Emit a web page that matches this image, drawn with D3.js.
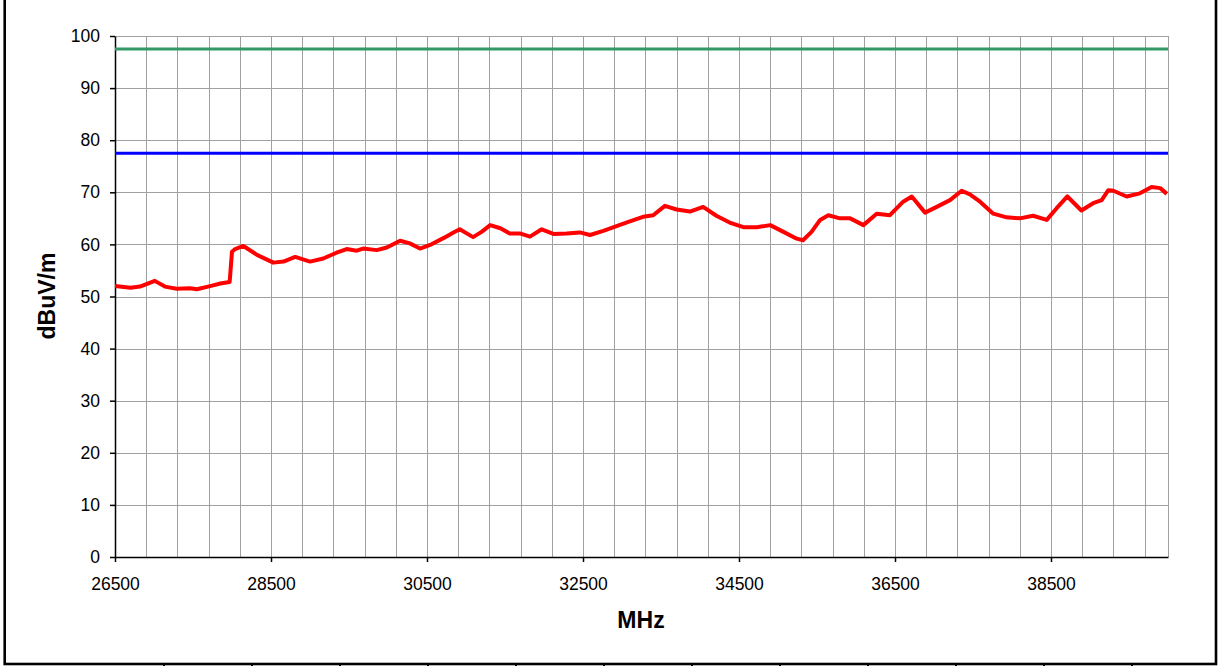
<!DOCTYPE html>
<html>
<head>
<meta charset="utf-8">
<script src="https://cdn.jsdelivr.net/npm/d3@7"></script>
<style>
  body { margin: 0; background: #fff; }
  svg { display: block; font-family: Arial, "Liberation Sans", sans-serif; }
</style>
</head>
<body>
<svg width="1225" height="666"></svg>
<script>
var freqs = [26500, 26700, 26820, 27010, 27140, 27290, 27460, 27550, 27720, 27850,
    27970, 28000, 28040, 28145, 28320, 28530, 28660, 28810, 29000, 29170,
    29340, 29470, 29600, 29680, 29855, 29985, 30155, 30280, 30410, 30540,
    30710, 30840, 30920, 31090, 31200, 31310, 31440, 31560, 31690, 31820,
    31970, 32120, 32290, 32460, 32590, 32760, 32930, 33100, 33270, 33400,
    33550, 33700, 33870, 34040, 34210, 34380, 34555, 34730, 34900, 35070,
    35240, 35320, 35430, 35540, 35645, 35795, 35925, 36095, 36265, 36435,
    36605, 36715, 36885, 37035, 37205, 37355, 37460, 37590, 37760, 37930,
    38100, 38270, 38445, 38570, 38710, 38890, 39040, 39150, 39235, 39300,
    39470, 39640, 39790, 39900, 39985];
var levels = [52.0, 51.7, 51.9, 53.0, 51.9, 51.5, 51.6, 51.4, 52.0, 52.5,
    52.8, 58.6, 59.1, 59.7, 58.0, 56.5, 56.7, 57.6, 56.7, 57.3,
    58.4, 59.1, 58.8, 59.2, 58.9, 59.4, 60.7, 60.2, 59.2, 59.9,
    61.2, 62.3, 62.9, 61.4, 62.4, 63.7, 63.1, 62.1, 62.1, 61.5,
    62.9, 62.0, 62.1, 62.3, 61.8, 62.6, 63.5, 64.4, 65.3, 65.6,
    67.4, 66.7, 66.3, 67.2, 65.5, 64.2, 63.3, 63.3, 63.7, 62.4,
    61.1, 60.8, 62.4, 64.7, 65.6, 65.0, 65.0, 63.7, 65.9, 65.6,
    68.2, 69.2, 66.1, 67.2, 68.5, 70.3, 69.6, 68.2, 65.9, 65.2,
    65.0, 65.5, 64.7, 66.9, 69.2, 66.5, 67.9, 68.5, 70.4, 70.3,
    69.2, 69.8, 71.0, 70.8, 69.7];

// limit lines
var limitUpper = 97.5;
var limitLower = 77.5;

var xDomain = [26500, 40000];
var yTicks = [0, 10, 20, 30, 40, 50, 60, 70, 80, 90, 100];
var xLabels = [26500, 28500, 30500, 32500, 34500, 36500, 38500];
var xGrid = d3.range(26500, 40000, 400);

var svg = d3.select("svg"),
    margin = {top: 36, right: 57, bottom: 109, left: 115},
    width = +svg.attr("width") - margin.left - margin.right,
    height = +svg.attr("height") - margin.top - margin.bottom;

// outer frame of the embedded chart
svg.append("rect")
    .attr("x", 4.7).attr("y", -10)
    .attr("width", 1211.3).attr("height", 674)
    .attr("fill", "none")
    .attr("stroke", "#000")
    .attr("stroke-width", 2.6);

// little cell marks under the frame
svg.append("g").selectAll("line")
    .data(d3.range(12))
    .enter().append("line")
    .attr("x1", function (d) { return 164 + d * 88.0; })
    .attr("x2", function (d) { return 164 + d * 88.0; })
    .attr("y1", 664).attr("y2", 666)
    .attr("stroke", "#000")
    .attr("stroke-width", 2);

var x = d3.scaleLinear().domain(xDomain).range([0, width]);
var y = d3.scaleLinear().domain([0, 100]).range([height, 0]);

var g = svg.append("g")
    .attr("transform", "translate(" + margin.left + "," + margin.top + ")");

// grid
g.append("g").selectAll("line")
    .data(yTicks.slice(1))
    .enter().append("line")
    .attr("x1", 0).attr("x2", width)
    .attr("y1", function (d) { return Math.round(y(d)) + 0.5; })
    .attr("y2", function (d) { return Math.round(y(d)) + 0.5; })
    .attr("stroke", "#a0a0a0");

g.append("g").selectAll("line")
    .data(xGrid.slice(1).concat([xDomain[1]]))
    .enter().append("line")
    .attr("x1", function (d) { return Math.round(x(d)) + 0.5; })
    .attr("x2", function (d) { return Math.round(x(d)) + 0.5; })
    .attr("y1", 0).attr("y2", height)
    .attr("stroke", "#a0a0a0");

// axes
g.append("g")
    .attr("class", "y axis")
    .call(d3.axisLeft(y).tickValues(yTicks).tickSize(5).tickSizeOuter(0).tickPadding(10));

g.append("g")
    .attr("class", "x axis")
    .attr("transform", "translate(0," + height + ")")
    .call(d3.axisBottom(x).tickValues(xLabels).tickSize(5).tickSizeOuter(0).tickPadding(16)
        .tickFormat(d3.format("d")));

g.selectAll(".axis text")
    .attr("font-size", "17.5px")
    .attr("font-family", "Arial, 'Liberation Sans', sans-serif")
    .attr("fill", "#000");
g.selectAll(".axis path, .axis line")
    .attr("stroke", "#000")
    .attr("stroke-width", 1.5);

// limit lines
g.append("line")
    .attr("x1", x(xDomain[0])).attr("x2", x(xDomain[1]))
    .attr("y1", y(limitUpper)).attr("y2", y(limitUpper))
    .attr("stroke", "#339966")
    .attr("stroke-width", 3);

g.append("line")
    .attr("x1", x(xDomain[0])).attr("x2", x(xDomain[1]))
    .attr("y1", y(limitLower)).attr("y2", y(limitLower))
    .attr("stroke", "#0000ff")
    .attr("stroke-width", 3);

// measured trace
var line = d3.line()
    .x(function (d, i) { return x(freqs[i]); })
    .y(function (d) { return y(d); });

g.append("path")
    .datum(levels)
    .attr("fill", "none")
    .attr("stroke", "#ff0000")
    .attr("stroke-width", 4)
    .attr("stroke-linejoin", "round")
    .attr("d", line);

// titles
svg.append("text")
    .attr("transform", "translate(55,296) rotate(-90)")
    .attr("text-anchor", "middle")
    .attr("font-size", "23px")
    .attr("font-weight", "bold")
    .text("dBuV/m");

svg.append("text")
    .attr("x", 641)
    .attr("y", 628)
    .attr("text-anchor", "middle")
    .attr("font-size", "23px")
    .attr("font-weight", "bold")
    .text("MHz");
</script>
</body>
</html>
